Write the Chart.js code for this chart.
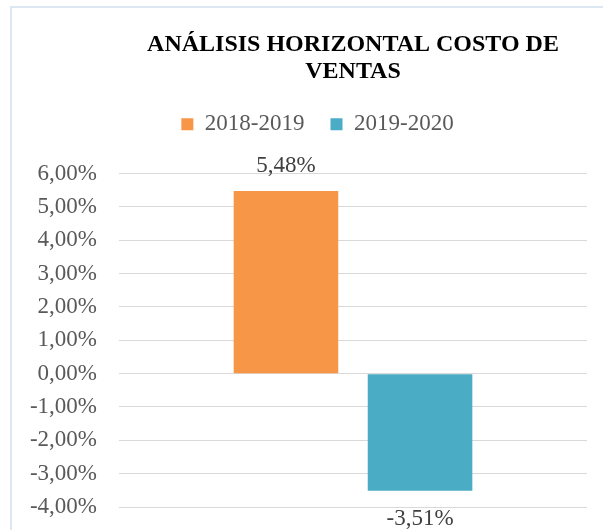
<!DOCTYPE html>
<html>
<head>
<meta charset="utf-8">
<script src="https://cdn.jsdelivr.net/npm/chart.js@4/dist/chart.umd.min.js"></script>
<style>
  html, body { margin: 0; padding: 0; background: #ffffff; }
  #wrap { width: 603px; height: 530px; position: relative; }
</style>
</head>
<body>
<div id="wrap"><canvas id="c" width="603" height="530"></canvas></div>
<script>
// ---- data ----
const categories = ['Costo de ventas'];
const seriesNames = ['2018-2019', '2019-2020'];
const values2018_2019 = [5.48];
const values2019_2020 = [-3.51];
const titleLines = ['ANÁLISIS HORIZONTAL COSTO DE', 'VENTAS'];
const yMin = -4, yMax = 6, yStep = 1;

const colors = ['#F79646', '#4BACC6'];
const SERIF = "'Liberation Serif', 'Times New Roman', serif";

const fmtPct = v => v.toFixed(2).replace('.', ',') + '%';

const decorPlugin = {
  id: 'decor',
  beforeDraw(chart) {
    const ctx = chart.ctx;
    ctx.save();
    ctx.fillStyle = '#ffffff';
    ctx.fillRect(0, 0, chart.width, chart.height);
    ctx.strokeStyle = '#dde7f3';
    ctx.lineWidth = 2;
    ctx.strokeRect(11, 7, chart.width + 20, chart.height + 20);
    ctx.restore();
  },
  beforeLayout(chart) {
    const lg = chart.legend;
    if (lg && !lg._spaced) {
      const fit = lg.fit;
      lg.fit = function () { fit.call(this); this.height += 28; };
      lg._spaced = true;
    }
  },
  afterLayout(chart) {
    const lg = chart.legend;
    if (lg) { lg.left += 19; lg.right += 19; }
  },
  afterDatasetsDraw(chart) {
    const ctx = chart.ctx;
    ctx.save();
    ctx.font = '23px ' + SERIF;
    ctx.fillStyle = '#404040';
    ctx.textAlign = 'center';
    ctx.textBaseline = 'middle';
    chart.data.datasets.forEach((ds, i) => {
      const meta = chart.getDatasetMeta(i);
      meta.data.forEach((bar, j) => {
        const v = ds.data[j];
        const y = v >= 0 ? bar.y - 25 : bar.y + 28;
        ctx.fillText(fmtPct(v), bar.x, y);
      });
    });
    ctx.restore();
  }
};

new Chart(document.getElementById('c'), {
  type: 'bar',
  data: {
    labels: categories,
    datasets: [
      { label: seriesNames[0], data: values2018_2019, backgroundColor: colors[0] },
      { label: seriesNames[1], data: values2019_2020, backgroundColor: colors[1] }
    ]
  },
  options: {
    responsive: false,
    animation: false,
    events: [],
    categoryPercentage: 0.573,
    barPercentage: 0.78,
    layout: { padding: { left: 10, right: 16, top: 0, bottom: 23 } },
    plugins: {
      title: {
        display: true,
        text: titleLines,
        fullSize: false,
        color: '#000000',
        font: { family: SERIF, size: 24, weight: 'bold', lineHeight: 1.12 },
        padding: { top: 31.6, bottom: 1.3 }
      },
      legend: {
        display: true,
        position: 'top',
        labels: {
          boxWidth: 12,
          boxHeight: 12,
          padding: 26,
          color: '#595959',
          font: { family: SERIF, size: 23 }
        }
      },
      tooltip: { enabled: false }
    },
    scales: {
      x: {
        display: false,
        grid: { display: false }
      },
      y: {
        min: yMin,
        max: yMax,
        afterFit(s) { s.width = 109; },
        ticks: {
          stepSize: yStep,
          padding: 0,
          color: '#595959',
          font: { family: SERIF, size: 23 },
          callback: v => fmtPct(v)
        },
        grid: {
          color: '#d9d9d9',
          lineWidth: 1,
          drawTicks: true,
          tickLength: 22,
          tickColor: 'rgba(0,0,0,0)'
        },
        border: { display: false }
      }
    }
  },
  plugins: [decorPlugin]
});
</script>
</body>
</html>
